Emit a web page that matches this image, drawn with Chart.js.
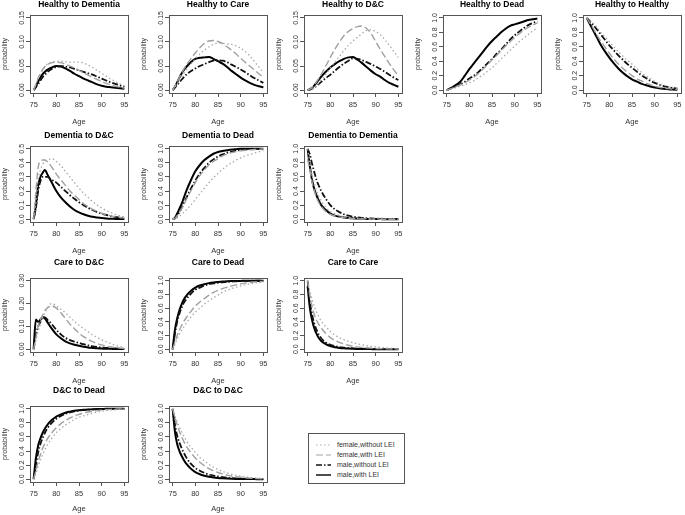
<!DOCTYPE html>
<html>
<head>
<meta charset="utf-8">
<script src="https://cdn.jsdelivr.net/npm/chart.js@4.4.1/dist/chart.umd.min.js"></script>
<style>
  body { margin: 0; background: #fff; width: 685px; height: 515px; position: relative; overflow: hidden;
         font-family: "Liberation Sans", Arial, sans-serif; }
  canvas { position: absolute; }
  #legend { position: absolute; left: 308px; top: 433px; width: 95px; height: 49px; border: 1px solid #555;
            font-size: 7px; color: #333; }
  #legend .row { position: absolute; left: 7px; height: 10px; line-height: 10px; white-space: nowrap; }
  #legend svg { position: absolute; left: 0; top: 3px; }
  #legend span { position: absolute; left: 21px; top: 0; }
</style>
</head>
<body>
<div id="legend"></div>
<script>
// ages on the x axis (finer near 75 where curves move fast)
const ages = [75, 75.5, 76, 76.5, 77, 77.5, 78, 79, 80, 81, 82, 83, 84, 85, 86, 87, 88, 89, 90, 91, 92, 93, 94, 95];
const ageTicks = [75, 80, 85, 90, 95];

const ticks015 = [0, 0.05, 0.10, 0.15];
const labels015 = ['0.00', '0.05', '0.10', '0.15'];
const ticks030 = [0, 0.10, 0.20, 0.30];
const labels030 = ['0.00', '0.10', '0.20', '0.30'];
const ticks05 = [0, 0.1, 0.2, 0.3, 0.4, 0.5];
const labels05 = ['0.0', '0.1', '0.2', '0.3', '0.4', '0.5'];
const ticks10 = [0, 0.2, 0.4, 0.6, 0.8, 1.0];
const labels10 = ['0.0', '0.2', '0.4', '0.6', '0.8', '1.0'];

const seriesNames = ['female,without LEI', 'female,with LEI', 'male,without LEI', 'male,with LEI'];

// Healthy to Dementia
const hDem_fNo  = [0, .012, .024, .034, .042, .048, .053, .058, .060, .060, .059, .058, .058, .058, .056, .052, .047, .041, .035, .029, .023, .018, .013, .009];
const hDem_fLei = [0, .012, .025, .035, .043, .049, .053, .057, .058, .057, .054, .050, .046, .041, .036, .031, .026, .022, .018, .014, .011, .008, .006, .004];
const hDem_mNo  = [0, .006, .013, .020, .027, .032, .037, .044, .048, .050, .049, .047, .044, .041, .038, .035, .032, .028, .024, .020, .016, .013, .010, .007];
const hDem_mLei = [0, .008, .018, .026, .033, .038, .042, .047, .050, .049, .045, .040, .034, .029, .024, .020, .016, .012, .009, .007, .006, .005, .004, .003];
// Healthy to Care
const hCare_fNo  = [0, .006, .013, .020, .028, .035, .042, .054, .065, .075, .083, .090, .095, .098, .097, .096, .095, .092, .087, .080, .071, .060, .048, .037];
const hCare_fLei = [0, .008, .017, .026, .035, .044, .052, .065, .077, .088, .097, .102, .103, .101, .097, .090, .083, .075, .066, .058, .050, .042, .034, .026];
const hCare_mNo  = [0, .005, .011, .016, .022, .027, .032, .039, .045, .050, .054, .058, .061, .062, .061, .058, .053, .048, .043, .037, .031, .025, .020, .015];
const hCare_mLei = [0, .007, .016, .026, .035, .042, .048, .058, .065, .067, .068, .069, .065, .060, .055, .048, .040, .033, .026, .020, .015, .011, .008, .006];
// Healthy to D&C
const hDC_fNo  = [0, .001, .003, .006, .010, .015, .021, .033, .046, .058, .070, .082, .093, .102, .110, .118, .124, .125, .122, .115, .105, .093, .080, .068];
const hDC_fLei = [0, .002, .006, .011, .018, .025, .033, .050, .068, .085, .100, .113, .122, .128, .132, .133, .128, .117, .101, .085, .070, .055, .042, .030];
const hDC_mNo  = [0, .001, .003, .006, .009, .013, .017, .025, .032, .040, .048, .055, .061, .066, .065, .062, .058, .054, .049, .044, .038, .032, .026, .021];
const hDC_mLei = [0, .002, .005, .010, .016, .022, .028, .038, .047, .054, .060, .065, .068, .069, .063, .056, .048, .040, .033, .028, .021, .015, .011, .007];
// Healthy to Dead
const hDead_fNo  = [0, .008, .016, .025, .034, .044, .054, .075, .10, .13, .17, .21, .26, .31, .37, .43, .49, .55, .61, .67, .72, .77, .82, .86];
const hDead_fLei = [0, .010, .020, .032, .045, .058, .072, .10, .14, .18, .23, .29, .35, .42, .48, .55, .61, .67, .73, .78, .83, .87, .90, .93];
const hDead_mNo  = [0, .012, .025, .038, .052, .067, .082, .115, .16, .20, .25, .31, .37, .43, .50, .56, .63, .70, .76, .81, .86, .90, .93, .95];
const hDead_mLei = [0, .015, .030, .050, .070, .090, .115, .20, .29, .37, .45, .53, .61, .68, .74, .80, .85, .89, .91, .93, .95, .97, .98, .99];
// Healthy to Healthy
const hH_fNo  = [1, .98, .95, .92, .89, .85, .81, .74, .67, .60, .53, .47, .41, .36, .30, .25, .20, .16, .12, .09, .07, .05, .035, .025];
const hH_fLei = [1, .95, .90, .85, .79, .74, .69, .60, .51, .43, .36, .30, .25, .20, .16, .13, .10, .075, .055, .04, .028, .02, .013, .008];
const hH_mNo  = [1, .97, .93, .90, .86, .82, .78, .70, .62, .55, .48, .42, .36, .31, .26, .21, .17, .13, .10, .075, .055, .04, .028, .02];
const hH_mLei = [1, .94, .88, .82, .76, .70, .64, .54, .45, .37, .30, .24, .19, .15, .12, .09, .07, .05, .035, .025, .018, .012, .008, .005];
// Dementia to D&C
const demDC_fNo  = [0, .12, .28, .35, .39, .41, .42, .43, .41, .38, .34, .30, .26, .22, .185, .155, .125, .10, .08, .062, .047, .035, .025, .017];
const demDC_fLei = [0, .20, .37, .41, .42, .42, .41, .37, .32, .28, .24, .20, .17, .14, .11, .09, .07, .055, .042, .032, .024, .017, .012, .008];
const demDC_mNo  = [0, .08, .20, .27, .30, .30, .30, .28, .26, .23, .20, .17, .145, .12, .10, .08, .065, .05, .04, .03, .022, .016, .012, .008];
const demDC_mLei = [0, .10, .24, .30, .33, .35, .32, .26, .20, .155, .12, .09, .065, .048, .035, .025, .017, .012, .008, .005, .003, .002, .001, .001];
// Dementia to Dead
const demDead_fNo  = [0, .005, .02, .045, .07, .10, .13, .20, .28, .36, .44, .52, .59, .65, .71, .76, .80, .84, .87, .90, .92, .94, .96, .975];
const demDead_fLei = [0, .01, .05, .10, .15, .21, .28, .40, .52, .62, .70, .77, .82, .86, .90, .925, .945, .96, .97, .98, .985, .99, .995, 1];
const demDead_mNo  = [0, .01, .05, .10, .16, .23, .30, .43, .55, .65, .73, .80, .85, .89, .92, .945, .96, .975, .985, .99, .995, 1, 1, 1];
const demDead_mLei = [0, .02, .08, .15, .22, .31, .40, .55, .68, .77, .84, .89, .93, .955, .97, .98, .99, .995, 1, 1, 1, 1, 1, 1];
// Dementia to Dementia
const demDem_fNo  = [1, .80, .62, .50, .40, .32, .26, .17, .11, .075, .05, .035, .025, .018, .013, .01, .008, .006, .005, .004, .003, .002, .002, .001];
const demDem_fLei = [.85, .70, .52, .40, .30, .23, .18, .11, .07, .045, .03, .02, .013, .008, .005, .003, .002, .001, .001, 0, 0, 0, 0, 0];
const demDem_mNo  = [1, .92, .78, .66, .55, .47, .40, .29, .20, .14, .10, .07, .05, .035, .025, .018, .013, .01, .008, .006, .005, .004, .003, .003];
const demDem_mLei = [1, .75, .55, .42, .33, .26, .20, .13, .08, .05, .035, .025, .018, .012, .008, .005, .003, .002, .001, .001, 0, 0, 0, 0];
// Care to D&C
const careDC_fNo  = [0, .04, .08, .11, .14, .16, .18, .20, .19, .175, .16, .14, .122, .105, .09, .076, .063, .052, .042, .033, .025, .018, .012, .008];
const careDC_fLei = [0, .05, .10, .13, .15, .17, .18, .19, .18, .16, .135, .11, .09, .07, .055, .043, .033, .025, .019, .014, .01, .007, .005, .003];
const careDC_mNo  = [0, .06, .10, .12, .14, .14, .13, .11, .085, .065, .05, .04, .033, .028, .022, .017, .013, .01, .008, .006, .005, .004, .003, .002];
const careDC_mLei = [0, .13, .12, .13, .14, .135, .12, .09, .065, .048, .035, .026, .02, .015, .011, .008, .006, .004, .003, .002, .002, .001, .001, .001];
// Care to Dead
const careDead_fNo  = [0, .07, .15, .22, .28, .33, .38, .47, .54, .60, .66, .71, .75, .79, .83, .86, .885, .905, .925, .94, .955, .965, .975, .98];
const careDead_fLei = [0, .10, .20, .28, .35, .41, .46, .55, .63, .69, .74, .79, .83, .86, .885, .905, .925, .94, .955, .965, .975, .982, .988, .99];
const careDead_mNo  = [0, .22, .40, .52, .61, .68, .73, .81, .87, .90, .93, .95, .96, .97, .978, .984, .988, .992, .995, .997, .998, 1, 1, 1];
const careDead_mLei = [0, .28, .45, .57, .66, .73, .78, .85, .90, .93, .95, .965, .975, .982, .988, .992, .995, .997, .998, 1, 1, 1, 1, 1];
// Care to Care
const careCare_fNo  = [1, .85, .72, .62, .54, .47, .41, .33, .26, .21, .17, .14, .115, .095, .078, .064, .052, .042, .034, .027, .021, .016, .012, .009];
const careCare_fLei = [1, .78, .62, .50, .42, .36, .31, .23, .17, .13, .10, .075, .058, .045, .035, .027, .021, .016, .012, .009, .007, .005, .004, .003];
const careCare_mNo  = [1, .70, .50, .37, .28, .21, .16, .10, .065, .045, .032, .023, .017, .013, .01, .008, .006, .005, .004, .003, .002, .002, .001, .001];
const careCare_mLei = [.92, .60, .42, .30, .22, .16, .12, .075, .045, .03, .02, .014, .01, .007, .005, .004, .003, .002, .001, .001, 0, 0, 0, 0];
// D&C to Dead
const dcDead_fNo  = [0, .08, .18, .27, .35, .42, .48, .58, .66, .72, .77, .81, .85, .88, .90, .92, .94, .955, .965, .975, .982, .988, .992, .995];
const dcDead_fLei = [0, .12, .25, .35, .44, .51, .57, .66, .73, .79, .83, .87, .90, .92, .94, .955, .965, .975, .982, .988, .992, .995, .997, .998];
const dcDead_mNo  = [0, .20, .38, .50, .59, .66, .72, .80, .86, .90, .93, .95, .965, .975, .982, .988, .992, .995, .997, .998, 1, 1, 1, 1];
const dcDead_mLei = [0, .30, .48, .58, .66, .72, .77, .84, .89, .92, .945, .96, .972, .98, .986, .99, .993, .996, .998, 1, 1, 1, 1, 1];
// D&C to D&C
const dcDC_fNo  = [1, .90, .82, .74, .67, .61, .55, .46, .38, .31, .26, .21, .17, .14, .11, .09, .07, .055, .043, .033, .025, .018, .013, .01];
const dcDC_fLei = [1, .88, .77, .68, .60, .53, .47, .38, .30, .24, .19, .15, .12, .095, .075, .058, .045, .035, .027, .02, .015, .011, .008, .006];
const dcDC_mNo  = [1, .78, .62, .52, .44, .37, .31, .22, .16, .12, .09, .065, .05, .038, .028, .02, .015, .011, .008, .006, .004, .003, .002, .001];
const dcDC_mLei = [1, .68, .50, .40, .33, .27, .22, .15, .10, .07, .05, .035, .025, .018, .013, .009, .006, .004, .003, .002, .001, .001, 0, 0];

const panels = [
  { title: 'Healthy to Dementia', row: 0, col: 0, ymax: 0.15, yt: ticks015, yl: labels015, series: [hDem_fNo, hDem_fLei, hDem_mNo, hDem_mLei] },
  { title: 'Healthy to Care', row: 0, col: 1, ymax: 0.15, yt: ticks015, yl: labels015, series: [hCare_fNo, hCare_fLei, hCare_mNo, hCare_mLei] },
  { title: 'Healthy to D&C', row: 0, col: 2, ymax: 0.15, yt: ticks015, yl: labels015, series: [hDC_fNo, hDC_fLei, hDC_mNo, hDC_mLei] },
  { title: 'Healthy to Dead', row: 0, col: 3, ymax: 1, yt: ticks10, yl: labels10, series: [hDead_fNo, hDead_fLei, hDead_mNo, hDead_mLei] },
  { title: 'Healthy to Healthy', row: 0, col: 4, ymax: 1, yt: ticks10, yl: labels10, series: [hH_fNo, hH_fLei, hH_mNo, hH_mLei] },
  { title: 'Dementia to D&C', row: 1, col: 0, ymax: 0.5, yt: ticks05, yl: labels05, series: [demDC_fNo, demDC_fLei, demDC_mNo, demDC_mLei] },
  { title: 'Dementia to Dead', row: 1, col: 1, ymax: 1, yt: ticks10, yl: labels10, series: [demDead_fNo, demDead_fLei, demDead_mNo, demDead_mLei] },
  { title: 'Dementia to Dementia', row: 1, col: 2, ymax: 1, yt: ticks10, yl: labels10, series: [demDem_fNo, demDem_fLei, demDem_mNo, demDem_mLei] },
  { title: 'Care to D&C', row: 2, col: 0, ymax: 0.3, yt: ticks030, yl: labels030, series: [careDC_fNo, careDC_fLei, careDC_mNo, careDC_mLei] },
  { title: 'Care to Dead', row: 2, col: 1, ymax: 1, yt: ticks10, yl: labels10, series: [careDead_fNo, careDead_fLei, careDead_mNo, careDead_mLei] },
  { title: 'Care to Care', row: 2, col: 2, ymax: 1, yt: ticks10, yl: labels10, series: [careCare_fNo, careCare_fLei, careCare_mNo, careCare_mLei] },
  { title: 'D&C to Dead', row: 3, col: 0, ymax: 1, yt: ticks10, yl: labels10, series: [dcDead_fNo, dcDead_fLei, dcDead_mNo, dcDead_mLei] },
  { title: 'D&C to D&C', row: 3, col: 1, ymax: 1, yt: ticks10, yl: labels10, series: [dcDC_fNo, dcDC_fLei, dcDC_mNo, dcDC_mLei] }
];

// line looks: dotted grey, dashed grey, dot-dash black, solid black
const looks = [
  { color: '#a9a9a9', width: 1.3, dash: [1.5, 2.5] },
  { color: '#a0a0a0', width: 1.4, dash: [7, 3] },
  { color: '#111111', width: 1.8, dash: [6, 2, 1.5, 2] },
  { color: '#000000', width: 2.0, dash: [] }
];

const FONT = '"Liberation Sans", Arial, sans-serif';
const colLeft = [0, 139, 274, 413, 553];
// top = canvas top, pad = space above the plot box, ty = title centre, xh = x axis band height
const rows = [
  { top: 0, h: 130, pad: 15, ty: 5, xh: 37, ageBottom: 4 },
  { top: 130, h: 129, pad: 16, ty: 6, xh: 37, ageBottom: 4 },
  { top: 257, h: 132, pad: 21, ty: 6, xh: 37, ageBottom: 4 },
  { top: 385, h: 130, pad: 21, ty: 6, xh: 33, ageBottom: 2 }
];

// R-like box round the plot area, rotated y tick labels and a title centred on the box
const boxPlugin = {
  id: 'rbox',
  afterDraw(chart, args, opts) {
    const ctx = chart.ctx, a = chart.chartArea, ys = chart.scales.y;
    ctx.save();
    ctx.strokeStyle = '#555';
    ctx.lineWidth = 1;
    ctx.strokeRect(Math.round(a.left) + 0.5, Math.round(a.top) + 0.5,
                   Math.round(a.right - a.left), Math.round(a.bottom - a.top));
    ctx.fillStyle = '#333';
    ctx.font = '7px ' + FONT;
    ctx.textAlign = 'center';
    ctx.textBaseline = 'alphabetic';
    opts.labels.forEach((txt, i) => {
      const y = ys.getPixelForValue(opts.values[i]);
      ctx.save();
      ctx.translate(a.left - 6, y);
      ctx.rotate(-Math.PI / 2);
      ctx.fillText(txt, 0, 0);
      ctx.restore();
    });
    ctx.fillStyle = '#000';
    ctx.font = 'bold 8.5px ' + FONT;
    ctx.textBaseline = 'middle';
    ctx.fillText(opts.title, (a.left + a.right) / 2, opts.ty);
    ctx.restore();
  }
};

panels.forEach(p => {
  const r = rows[p.row];
  const cv = document.createElement('canvas');
  cv.width = 132;
  cv.height = r.h;
  cv.style.left = colLeft[p.col] + 'px';
  cv.style.top = r.top + 'px';
  document.body.appendChild(cv);

  new Chart(cv, {
    type: 'line',
    data: {
      datasets: p.series.map((vals, k) => ({
        label: seriesNames[k],
        data: ages.map((a, i) => ({ x: a, y: vals[i] })),
        borderColor: looks[k].color,
        borderWidth: looks[k].width,
        borderDash: looks[k].dash,
        pointRadius: 0,
        fill: false,
        cubicInterpolationMode: 'monotone'
      }))
    },
    options: {
      responsive: false,
      animation: false,
      layout: { padding: { left: 0, right: 4, top: r.pad, bottom: 0 } },
      plugins: {
        legend: { display: false },
        tooltip: { enabled: false },
        title: { display: false },
        rbox: { values: p.yt, labels: p.yl, title: p.title, ty: r.ty }
      },
      scales: {
        x: {
          type: 'linear', min: 74.2, max: 95.8,
          afterBuildTicks: s => { s.ticks = ageTicks.map(v => ({ value: v })); },
          afterFit: s => { s.height = r.xh; },
          ticks: { font: { family: FONT, size: 7.5 }, color: '#333', padding: 3, maxRotation: 0, autoSkip: false },
          grid: { drawOnChartArea: false, color: '#555', tickLength: 4 },
          border: { display: false },
          title: { display: true, text: 'Age', color: '#333', font: { family: FONT, size: 7.5 }, padding: { top: 0, bottom: r.ageBottom } }
        },
        y: {
          type: 'linear', min: -0.04 * p.ymax, max: 1.04 * p.ymax,
          afterBuildTicks: s => { s.ticks = p.yt.map(v => ({ value: v })); },
          afterFit: s => { s.width = 30; },
          ticks: { display: false },
          grid: { drawOnChartArea: false, color: '#555', tickLength: 4 },
          border: { display: false },
          title: { display: true, text: 'probability', color: '#333', font: { family: FONT, size: 7 }, padding: { top: 1, bottom: 0 } }
        }
      }
    },
    plugins: [boxPlugin]
  });
});

// legend box
const legend = document.getElementById('legend');
seriesNames.forEach((name, k) => {
  const row = document.createElement('div');
  row.className = 'row';
  row.style.top = (6 + k * 10) + 'px';
  row.innerHTML = '<svg width="15" height="4"><line x1="0" y1="2" x2="15" y2="2" stroke="' + looks[k].color +
    '" stroke-width="' + (looks[k].width * 0.7) + '" stroke-dasharray="' + (looks[k].dash.join(',') || 'none') + '"/></svg>' +
    '<span>' + name + '</span>';
  legend.appendChild(row);
});
</script>
</body>
</html>
